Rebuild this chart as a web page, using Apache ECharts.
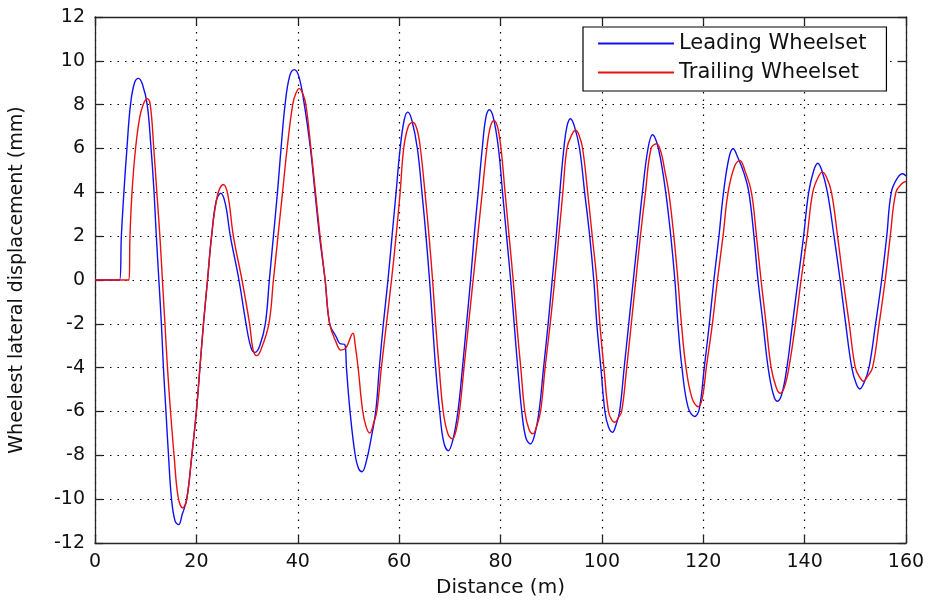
<!DOCTYPE html>
<html>
<head>
<meta charset="utf-8">
<script src="https://cdn.jsdelivr.net/npm/echarts@6/dist/echarts.min.js"></script>
<style>html,body{margin:0;padding:0;background:#fff;}#c{width:929px;height:603px;}</style>
</head>
<body>
<div id="c"></div>
<script>
const seriesNames = ['Leading Wheelset', 'Trailing Wheelset'];
const xTicks = [0, 20, 40, 60, 80, 100, 120, 140, 160];
const yTicks = [-12, -10, -8, -6, -4, -2, 0, 2, 4, 6, 8, 10, 12];

const leading = [[0,0],[4.85,0],[5.2,2],[5.7,4],[6.3,6],[7.0,8],[7.8,9.0],[8.6,9.2],[9.4,8.9],[10.3,8],[11.0,6.2],[11.6,4.2],[12.1,2],[12.6,0],[13.1,-2],[13.5,-4],[14.0,-6],[14.5,-8],[15.1,-10],[15.8,-11],[16.5,-11.16],[17.2,-10.7],[18.1,-10],[19.1,-8],[20.0,-6],[20.7,-4],[21.4,-2],[22.2,0],[23.0,2],[23.9,3.6],[24.8,3.96],[25.7,3.5],[26.7,2],[28.4,0],[29.8,-2],[30.8,-3.1],[31.6,-3.3],[32.5,-3.0],[33.6,-2],[34.4,0],[35.2,2],[36.0,4],[36.7,6],[37.5,8],[38.4,9.3],[39.3,9.6],[40.2,9.3],[41.3,8],[42.5,6],[43.4,4],[44.3,2],[45.4,0],[46.3,-2],[47.6,-2.6],[48.3,-2.9],[49.3,-2.95],[49.6,-3.98],[50.3,-5.96],[51.3,-7.94],[52.0,-8.6],[52.7,-8.75],[53.5,-8.3],[54.5,-7.2],[55.4,-5.96],[56.1,-3.98],[56.9,-1.97],[57.8,0],[58.6,2],[59.4,4],[60.2,6],[61.0,7.3],[61.7,7.66],[62.5,7.3],[63.6,6],[64.5,4],[65.3,2],[66.0,0],[66.6,-2],[67.2,-4],[68.0,-6],[68.8,-7.4],[69.7,-7.79],[70.6,-7.3],[71.6,-6],[72.5,-4],[73.3,-2],[74.1,0],[74.8,2],[75.6,4],[76.4,6],[77.1,7.4],[77.8,7.77],[78.6,7.4],[79.6,6],[80.4,4],[81.2,2],[82.0,0],[82.7,-2],[83.4,-4],[84.2,-6],[85.0,-7.2],[85.9,-7.48],[86.7,-7.1],[87.6,-6],[88.5,-4],[89.4,-2],[90.2,0],[91.0,2],[91.7,4],[92.5,6],[93.1,7.0],[93.8,7.36],[94.6,7.0],[95.6,6],[96.6,4],[97.6,2],[98.4,0],[99.0,-2],[99.8,-4],[100.6,-6],[101.3,-6.7],[102.1,-6.95],[102.8,-6.6],[103.5,-6],[104.4,-4],[105.3,-2],[106.2,0],[107.1,2],[108.0,4],[109.1,6],[110.0,6.63],[110.8,6.3],[111.6,5.5],[112.6,4],[113.6,2],[114.4,0],[115.0,-2],[115.8,-4],[117.0,-5.8],[118.3,-6.23],[119.2,-5.9],[120.2,-4],[121.2,-2],[122.1,0],[123.1,2],[124.0,4],[125.1,5.6],[125.9,5.99],[126.8,5.6],[128.0,4.9],[129.0,4],[130.0,2],[130.8,0],[131.8,-2],[132.8,-4],[133.8,-5.2],[134.6,-5.53],[135.5,-5.2],[136.5,-4],[137.6,-2],[138.7,0],[139.8,2],[140.8,4],[141.8,5.0],[142.6,5.33],[143.4,5.0],[144.5,4],[145.8,2],[147.0,0],[148.1,-2],[149.3,-4],[150.2,-4.75],[150.9,-4.97],[151.7,-4.7],[152.7,-4],[154.0,-2],[155.2,0],[156.2,2],[157.1,4],[158.3,4.65],[159.3,4.85],[160,4.75]];

const trailing = [[0,0],[6.7,0],[6.9,2],[7.3,4],[8.0,6],[8.8,7.4],[9.5,8.0],[10.3,8.27],[10.9,8],[11.6,6],[12.2,4],[12.8,2],[13.3,0],[13.8,-2],[14.3,-4],[14.9,-6],[15.6,-8],[16.4,-9.9],[17.3,-10.4],[18.1,-10],[19.1,-8],[20.0,-6],[20.7,-4],[21.4,-2],[22.2,0],[23.0,2],[24.2,3.9],[25.3,4.36],[26.2,3.9],[27.3,2],[29.0,0],[30.5,-2],[31.2,-3.2],[31.9,-3.45],[32.7,-3.2],[34.3,-2],[35.2,0],[36.1,2],[37.0,4],[37.9,6],[39.0,8],[39.6,8.5],[40.3,8.73],[41.0,8.5],[41.6,8],[42.6,6],[43.5,4],[44.4,2],[45.4,0],[46.3,-2],[47.5,-2.8],[48.5,-3.2],[49.5,-3.1],[50.9,-2.43],[51.3,-2.9],[51.9,-3.98],[52.8,-5.96],[53.5,-6.7],[54.2,-6.98],[55.0,-6.5],[55.6,-6],[56.5,-4],[57.5,-2],[58.5,0],[59.4,2],[60.2,4],[60.9,6],[61.8,7.0],[62.7,7.2],[63.5,6.9],[64.2,6],[65.1,4],[65.9,2],[66.6,0],[67.2,-2],[67.9,-4],[68.7,-6],[69.6,-7.0],[70.5,-7.25],[71.2,-6.9],[71.9,-6],[72.8,-4],[73.7,-2],[74.6,0],[75.5,2],[76.4,4],[77.3,6],[78.0,7.0],[78.7,7.28],[79.4,7.0],[80.1,6],[80.9,4],[81.7,2],[82.5,0],[83.2,-2],[84.0,-4],[84.8,-6],[85.6,-6.8],[86.4,-7.02],[87.1,-6.7],[87.9,-6],[88.8,-4],[89.8,-2],[90.7,0],[91.5,2],[92.3,4],[93.1,6],[94.0,6.6],[94.8,6.83],[95.5,6.6],[96.2,6],[97.2,4],[98.1,2],[99.0,0],[99.6,-2],[100.4,-4],[101.3,-6],[102.0,-6.4],[102.6,-6.49],[103.2,-6.3],[103.9,-6],[104.9,-4],[105.8,-2],[106.7,0],[107.6,2],[108.6,4],[109.7,6],[110.8,6.22],[111.7,5.8],[112.4,5],[113.2,4],[114.2,2],[115.0,0],[115.7,-2],[116.6,-4],[117.8,-5.4],[119.0,-5.78],[119.8,-5.4],[120.6,-4],[121.8,-2],[122.8,0],[123.9,2],[124.9,4],[126.2,5.2],[127.2,5.46],[128.2,5.0],[129.5,4],[130.5,2],[131.4,0],[132.4,-2],[133.4,-4],[134.4,-4.9],[135.2,-5.17],[136.0,-4.9],[136.9,-4],[138.2,-2],[139.3,0],[140.5,2],[141.6,4],[142.7,4.7],[143.5,4.92],[144.3,4.7],[145.3,4],[146.5,2],[147.6,0],[148.8,-2],[150.0,-4],[150.9,-4.45],[151.6,-4.62],[152.4,-4.4],[153.4,-4],[154.7,-2],[155.9,0],[156.9,2],[158.0,4],[159.2,4.4],[160,4.5]];

const FONT = 'DejaVu Sans';
const chart = echarts.init(document.getElementById('c'), null, {renderer: 'canvas'});
const axisLineStyle = {color: '#262626', width: 1.3};
const tickStyle = {show: true, inside: true, length: 8, lineStyle: {color: '#262626', width: 1.3}};
const gridLine = {show: true, lineStyle: {color: '#000', width: 1.2, type: [1.5, 6]}};

chart.setOption({
  animation: false,
  backgroundColor: '#fff',
  grid: {left: 92, right: 23, top: 17, bottom: 60, containLabel: false},
  legend: {
    orient: 'vertical',
    left: 583, top: 27,
    padding: [6, 20, 8, 15],
    itemGap: 8,
    itemWidth: 76, itemHeight: 2,
    icon: 'rect',
    backgroundColor: '#fff',
    borderColor: '#000', borderWidth: 1.2, borderRadius: 0,
    textStyle: {fontFamily: FONT, fontSize: 21, color: '#111'},
    data: seriesNames
  },
  xAxis: [{
    type: 'value', min: xTicks[0], max: xTicks[xTicks.length - 1], interval: 20,
    name: 'Distance (m)', nameLocation: 'middle', nameGap: 35,
    nameTextStyle: {fontFamily: FONT, fontSize: 20, color: '#111'},
    axisLine: {show: true, onZero: false, lineStyle: axisLineStyle},
    axisTick: tickStyle,
    axisLabel: {fontFamily: FONT, fontSize: 19, color: '#111', margin: 10},
    splitLine: gridLine
  }, {
    type: 'value', position: 'top', min: xTicks[0], max: xTicks[xTicks.length - 1], interval: 20,
    axisLine: {show: true, onZero: false, lineStyle: axisLineStyle},
    axisTick: tickStyle, axisLabel: {show: false}, splitLine: {show: false}
  }],
  yAxis: [{
    type: 'value', min: yTicks[0], max: yTicks[yTicks.length - 1], interval: 2,
    name: 'Wheelest lateral displacement (mm)', nameLocation: 'middle', nameGap: 68, nameRotate: 90,
    nameTextStyle: {fontFamily: FONT, fontSize: 19, color: '#111'},
    axisLine: {show: true, onZero: false, lineStyle: axisLineStyle},
    axisTick: tickStyle,
    axisLabel: {fontFamily: FONT, fontSize: 19, color: '#111', margin: 10},
    splitLine: gridLine
  }, {
    type: 'value', position: 'right', min: yTicks[0], max: yTicks[yTicks.length - 1], interval: 2,
    axisLine: {show: true, onZero: false, lineStyle: axisLineStyle},
    axisTick: tickStyle, axisLabel: {show: false}, splitLine: {show: false}
  }],
  series: [{
    name: seriesNames[0], type: 'line', data: leading, showSymbol: false,
    smooth: 0.4,
    lineStyle: {color: '#1010f0', width: 1.4}, itemStyle: {color: '#1010f0'}, z: 3
  }, {
    name: seriesNames[1], type: 'line', data: trailing, showSymbol: false,
    smooth: 0.4,
    lineStyle: {color: '#e81010', width: 1.4}, itemStyle: {color: '#e81010'}, z: 4
  }]
});
</script>
</body>
</html>
